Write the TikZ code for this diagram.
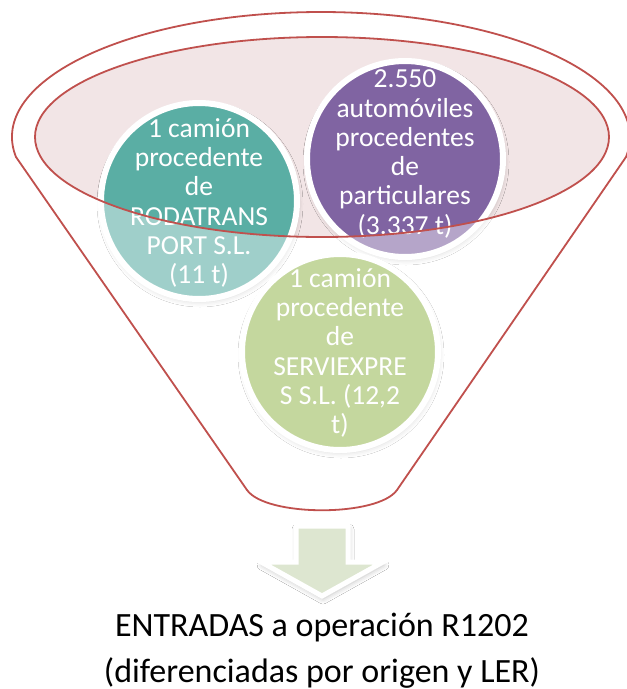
\documentclass[tikz,border=0pt]{standalone}
\usepackage{fontspec}
\setmainfont{Carlito}
\usetikzlibrary{shadows.blur}
\definecolor{fred}{HTML}{C0504D}
\definecolor{fpink}{HTML}{F2E5E6}
\definecolor{cteal}{HTML}{5AAEA4}
\definecolor{cpurple}{HTML}{8064A2}
\definecolor{cgreen}{HTML}{9BBB59}
\definecolor{carrow}{HTML}{DDE6D0}
\begin{document}
\begin{tikzpicture}[x=1pt,y=-1pt,
  bubble/.style={circle, inner sep=0pt, minimum size=196pt, draw=white, line width=6pt,
    blur shadow={shadow xshift=1pt, shadow yshift=-3pt, shadow blur radius=5pt, shadow opacity=25}},
  btext/.style={text=white, align=center, font=\fontsize{27.5}{29.3}\selectfont, inner sep=0pt},
  funnelline/.style={draw=fred, line width=1.8pt},
  caption/.style={font=\fontsize{34}{41}\selectfont, anchor=base, inner sep=0pt}]
\useasboundingbox (0,0) rectangle (627,689);
\fill[white] (0,0) rectangle (627,689);
% inner ellipse background
\fill[fpink] (322,137) ellipse [x radius=287pt, y radius=100pt];
% bubbles
\node[bubble, fill=cteal] (c1) at (199,201) {};
\node[bubble, fill=cpurple] (c2) at (405,159) {};
\node[bubble, fill=cgreen] (c3) at (340,352) {};
\node[btext] (t1) at (199,203) {1 camión\\procedente\\de\\RODATRANS\\PORT S.L.\\(11 t)};
\node[btext] (t2) at (405,154) {2.550\\automóviles\\procedentes\\de\\particulares\\(3.337 t)};
\node[btext] (t3) at (340,353) {1 camión\\procedente\\de\\SERVIEXPRE\\S S.L. (12,2\\t)};
% translucent funnel body
\fill[white, fill opacity=0.42, even odd rule]
  (321,137) ++(189.2:309pt and 125pt)
  arc[start angle=189.2, end angle=-9.2, x radius=309pt, y radius=125pt]
  -- (397,490) .. controls (378,517) and (266,517) .. (247,490) -- cycle
  (322,137) ellipse [x radius=287pt, y radius=100pt];
% red outlines
\draw[funnelline] (322,137) ellipse [x radius=287pt, y radius=100pt];
\draw[funnelline, line join=round]
  (321,137) ++(189.2:309pt and 125pt)
  arc[start angle=189.2, end angle=-9.2, x radius=309pt, y radius=125pt]
  -- (397,490) .. controls (378,517) and (266,517) .. (247,490) -- cycle;
% arrow
\draw[draw=white, line width=5pt, fill=carrow, line join=miter,
  blur shadow={shadow xshift=1pt, shadow yshift=-3pt, shadow blur radius=5pt, shadow opacity=25}]
  (296,526) -- (348,526) -- (348,562) -- (383,562) -- (322,596) -- (261,562) -- (296,562) -- cycle;
% caption
\node[caption] (cap1) at (322,636) {ENTRADAS a operación R1202};
\node[caption] (cap2) at (322,682) {(diferenciadas por origen y LER)};
\end{tikzpicture}
\end{document}
